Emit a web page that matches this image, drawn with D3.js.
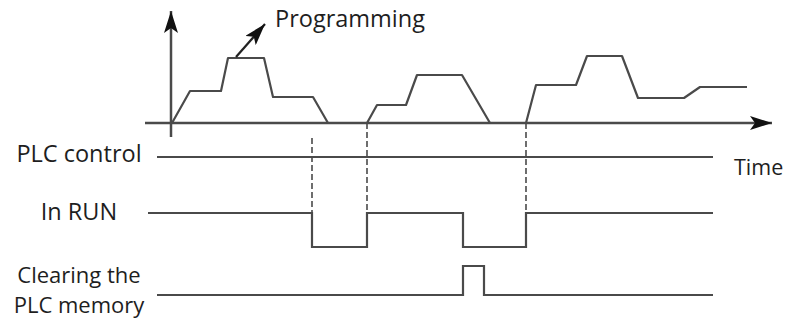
<!DOCTYPE html>
<html>
<head>
<meta charset="utf-8">
<script src="https://cdn.jsdelivr.net/npm/d3@7"></script>
<style>
  body { margin: 0; background: #fff; }
  text { font-family: "Open Sans", sans-serif; fill: #1e1e1e; }
</style>
</head>
<body>
<script>
// Programming activity (time, level) - three bursts
let progTime1 = [0, 18, 49, 56, 92, 101, 141, 156];
let progLevel1 = [0, 32, 32, 65, 65, 26, 26, 0];
let progTime2 = [195, 205, 234, 245, 290, 318];
let progLevel2 = [0, 18, 18, 48, 48, 0];
let progTime3 = [354, 364, 404, 415, 450, 466, 512, 528, 575];
let progLevel3 = [0, 38, 38, 67, 67, 25, 25, 36, 36];

// Digital signals: time of each edge and the state after it
let plcTime = [-15, 541];
let plcState = [1, 1];
let runTime = [-24, 140, 195, 291, 354, 541];
let runState = [1, 0, 1, 0, 1, 1];
let clearTime = [-15, 291, 312, 541];
let clearState = [0, 1, 0, 0];

// Dashed markers
let markTime = [140, 195, 354];

let rowLabels = [["PLC control"], ["In RUN"], ["Clearing the", "PLC memory"]];

let w = 788, h = 322;

let svg = d3.select("body").append("svg")
    .attr("width", w)
    .attr("height", h);

let x = d3.scaleLinear().domain([0, 600]).range([172, 772]);
let yProg = d3.scaleLinear().domain([0, 100]).range([123, 23]);

let lineCol = "#4a4a4a";

// Arrowhead marker
let defs = svg.append("defs");
defs.append("marker")
    .attr("id", "arrow")
    .attr("viewBox", "0 0 22 14")
    .attr("refX", 22).attr("refY", 7)
    .attr("markerWidth", 22).attr("markerHeight", 14)
    .attr("markerUnits", "userSpaceOnUse")
    .attr("orient", "auto")
    .append("path")
    .attr("d", "M0,0 L22,7 L0,14 L5,7 Z")
    .attr("fill", "#111");

// Axes
svg.append("line")
    .attr("x1", 145).attr("y1", yProg(0))
    .attr("x2", 772).attr("y2", yProg(0))
    .attr("stroke", lineCol).attr("stroke-width", 2.5)
    .attr("marker-end", "url(#arrow)");
svg.append("line")
    .attr("x1", x(-1)).attr("y1", 137)
    .attr("x2", x(-1)).attr("y2", 11)
    .attr("stroke", lineCol).attr("stroke-width", 2.5)
    .attr("marker-end", "url(#arrow)");

// Programming waveform
let progLine = d3.line().x(d => x(d[0])).y(d => yProg(d[1]));
[[progTime1, progLevel1], [progTime2, progLevel2], [progTime3, progLevel3]].forEach(function (s) {
    svg.append("path")
        .attr("d", progLine(d3.zip(s[0], s[1])))
        .attr("fill", "none")
        .attr("stroke", lineCol)
        .attr("stroke-width", 2.2)
        .attr("stroke-linejoin", "round");
});

// Programming annotation arrow
svg.append("line")
    .attr("x1", x(64)).attr("y1", yProg(66))
    .attr("x2", x(93)).attr("y2", yProg(99))
    .attr("stroke", "#222").attr("stroke-width", 2.2)
    .attr("marker-end", "url(#arrow)");
svg.append("text")
    .attr("x", 275).attr("y", 27)
    .attr("font-size", 23.5)
    .text("Programming");

// Row levels (high, low)
let rows = [
    { t: plcTime, s: plcState, hi: 157, lo: 157 },
    { t: runTime, s: runState, hi: 213, lo: 247 },
    { t: clearTime, s: clearState, hi: 266, lo: 295 }
];
let stepLine = d3.line().curve(d3.curveStepAfter);
rows.forEach(function (r) {
    let yS = d3.scaleLinear().domain([0, 1]).range([r.lo, r.hi]);
    svg.append("path")
        .attr("d", stepLine(d3.zip(r.t, r.s).map(d => [x(d[0]), yS(d[1])])))
        .attr("fill", "none")
        .attr("stroke", lineCol)
        .attr("stroke-width", 2.2);
});

// Dashed guide lines
let dashFrom = [138, yProg(0), yProg(0)];
let dashTo = [247, 213, 213];
markTime.forEach(function (t, i) {
    svg.append("line")
        .attr("x1", x(t)).attr("y1", dashFrom[i])
        .attr("x2", x(t)).attr("y2", dashTo[i])
        .attr("stroke", lineCol).attr("stroke-width", 1.6)
        .attr("stroke-dasharray", "6,3");
});

// Row labels
let labelY = [[162], [220], [283, 313]];
let labelSize = [23.5, 23.5, 22];
rowLabels.forEach(function (lines, i) {
    lines.forEach(function (l, j) {
        svg.append("text")
            .attr("x", 79).attr("y", labelY[i][j])
            .attr("text-anchor", "middle")
            .attr("font-size", labelSize[i])
            .text(l);
    });
});

svg.append("text")
    .attr("x", 734).attr("y", 175)
    .attr("font-size", 21.5)
    .text("Time");
</script>
</body>
</html>
